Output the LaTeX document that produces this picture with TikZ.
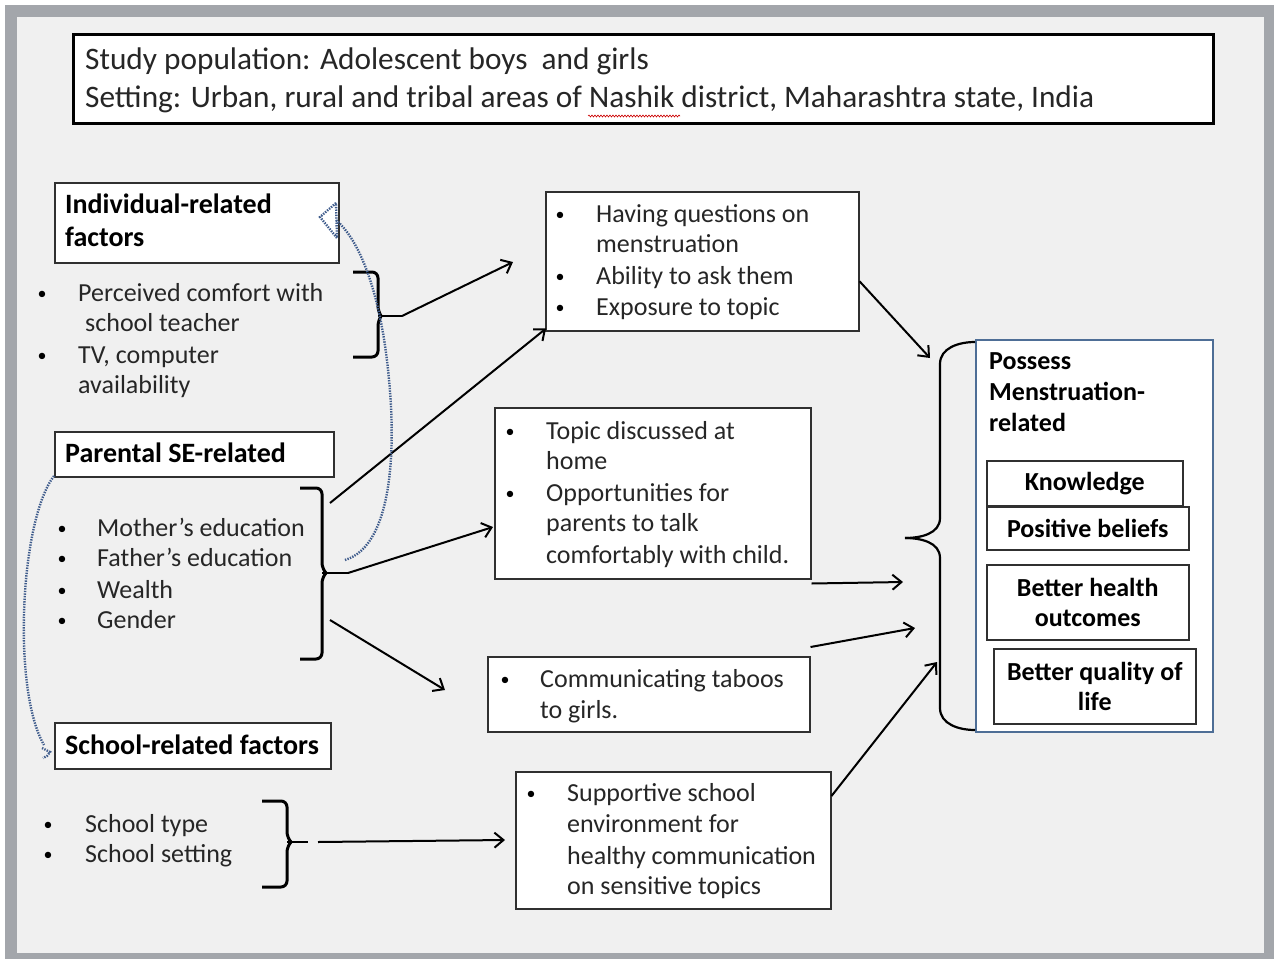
\documentclass[tikz,border=0pt]{standalone}
\usepackage{fontspec}
\setmainfont{Carlito}
\usetikzlibrary{arrows.meta,decorations.pathmorphing}
\definecolor{bgc}{HTML}{F0F0F0}
\definecolor{framec}{HTML}{A3A6AB}
\definecolor{boxc}{HTML}{303030}
\definecolor{txtc}{HTML}{262626}
\definecolor{dotc}{HTML}{3F5C8C}
\definecolor{outc}{HTML}{4E6E96}
\newcommand{\fsbody}{\fontsize{26}{31}\selectfont}
\newcommand{\fshead}{\fontsize{28}{33}\selectfont}
\newcommand{\fstitle}{\fontsize{31.3}{38}\selectfont}
\newcommand{\fsbul}{\fontsize{18}{20}\selectfont}
\begin{document}
\begin{tikzpicture}[x=1pt,y=-1pt,
  box/.style={draw=boxc, fill=white, line width=1.5pt, inner sep=0pt, anchor=north west},
  txt/.style={anchor=base west, inner sep=0pt, text=txtc, font=\fsbody},
  head/.style={anchor=base west, inner sep=0pt, text=black, font=\fshead\bfseries},
  ohead/.style={anchor=base west, inner sep=0pt, text=black, font=\fsbody\bfseries},
  bul/.style={anchor=base, inner sep=0pt, text=black, font=\fsbul, yshift=2pt},
  sub/.style={draw=boxc, fill=white, line width=1.5pt, inner sep=0pt, anchor=north west, align=center, font=\fsbody\bfseries, text=black},
  arr/.style={line width=2pt, -{Straight Barb[length=9pt,width=15pt,line width=2pt]}},
  ln/.style={line width=2pt},
  bracestyle/.style={line width=3pt, rounded corners=6pt},
  dotline/.style={draw=dotc, line width=2.4pt, dash pattern=on 1.4pt off 1.2pt}
]
\useasboundingbox (0,0) rectangle (1278,962);
\fill[white] (0,0) rectangle (1278,962);
\fill[framec] (5,5) rectangle (1274,959);
\fill[bgc] (17,17) rectangle (1264,953);

% title
\node[box, line width=2.5pt, draw=black, minimum width=1140pt, minimum height=89pt] (title) at (72,33) {};
\node[anchor=base west, inner sep=0pt, font=\fstitle, text=txtc] (t1) at (85,69) {Study population: Adolescent boys\ \ and girls};
\node[anchor=base west, inner sep=0pt, font=\fstitle, text=txtc] (t2) at (85,107) {Setting: Urban, rural and tribal areas of Nashik district, Maharashtra state, India};
\draw[red!80!black, line width=0.6pt, decorate, decoration={snake, amplitude=1pt, segment length=3pt}] (588,116) -- (680,116);

% individual
\node[box, minimum width=284pt, minimum height=80pt] (ind) at (54,182) {};
\node[head] (ind1) at (65,213) {Individual-related};
\node[head] (ind2) at (65,246) {factors};
\node[bul] (ib1) at (42,301) {•};
\node[txt] (i1) at (78,301) {Perceived comfort with};
\node[txt] (i2) at (85,331) {school teacher};
\node[bul] (ib2) at (42,363) {•};
\node[txt] (i3) at (78,363) {TV, computer};
\node[txt] (i4) at (78,393) {availability};

% parental
\node[box, minimum width=279pt, minimum height=45pt] (par) at (54,431) {};
\node[head] (par1) at (65,462) {Parental SE-related};
\node[bul] (pb1) at (62,536) {•};
\node[txt] (p1) at (97,536) {Mother’s education};
\node[bul] (pb2) at (62,566) {•};
\node[txt] (p2) at (97,566) {Father’s education};
\node[bul] (pb3) at (62,598) {•};
\node[txt] (p3) at (97,598) {Wealth};
\node[bul] (pb4) at (62,628) {•};
\node[txt] (p4) at (97,628) {Gender};

% school
\node[box, minimum width=276pt, minimum height=46pt] (sch) at (54,722) {};
\node[head] (sch1) at (65,754) {School-related factors};
\node[bul] (sb1) at (48,832) {•};
\node[txt] (s1) at (85,832) {School type};
\node[bul] (sb2) at (48,862) {•};
\node[txt] (s2) at (85,862) {School setting};

% questions box
\node[box, minimum width=313pt, minimum height=139pt] (q) at (545,191) {};
\node[bul] (qb1) at (560,222) {•};
\node[txt] (q1) at (596,222) {Having questions on};
\node[txt] (q2) at (596,252) {menstruation};
\node[bul] (qb2) at (560,284) {•};
\node[txt] (q3) at (596,284) {Ability to ask them};
\node[bul] (qb3) at (560,315) {•};
\node[txt] (q4) at (596,315) {Exposure to topic};

% home box
\node[box, minimum width=316pt, minimum height=171pt] (home) at (494,407) {};
\node[bul] (hb1) at (510,439) {•};
\node[txt] (h1) at (546,439) {Topic discussed at};
\node[txt] (h2) at (546,469) {home};
\node[bul] (hb2) at (510,501) {•};
\node[txt] (h3) at (546,501) {Opportunities for};
\node[txt] (h4) at (546,531) {parents to talk};
\node[txt] (h5) at (546,563) {comfortably with child.};

% taboo box
\node[box, minimum width=322pt, minimum height=75pt] (tab) at (487,656) {};
\node[bul] (tb1) at (505,687) {•};
\node[txt] (ta1) at (540,687) {Communicating taboos};
\node[txt] (ta2) at (540,718) {to girls.};

% supportive box
\node[box, minimum width=315pt, minimum height=137pt] (sup) at (515,771) {};
\node[bul] (spb1) at (531,801) {•};
\node[txt] (sp1) at (567,801) {Supportive school};
\node[txt] (sp2) at (567,832) {environment for};
\node[txt] (sp3) at (567,864) {healthy communication};
\node[txt] (sp4) at (567,894) {on sensitive topics};

% outcome box
\node[box, draw=outc, minimum width=237pt, minimum height=392pt] (out) at (975,339) {};
\node[ohead] (o1) at (989,369) {Possess};
\node[ohead] (o2) at (989,400) {Menstruation-};
\node[ohead] (o3) at (989,431) {related};
\node[sub, minimum width=196pt, minimum height=45pt] (know) at (986,460) {Knowledge};
\node[sub, minimum width=202pt, minimum height=43pt] (pos) at (986,506) {Positive beliefs};
\node[sub, minimum width=202pt, minimum height=75pt] (hlth) at (986,564) {Better health\\[-1pt]outcomes};
\node[sub, minimum width=202pt, minimum height=75pt] (qual) at (993,648) {Better quality of\\[-1pt]life};

% braces
\draw[bracestyle] (353,272) -- (378,272) -- (378,312) -- (381,316);
\draw[bracestyle] (381,316) -- (378,320) -- (378,357) -- (353,357);
\coordinate (b1) at (402,316);
\draw[ln] (378,316) -- (b1);

\draw[bracestyle] (300,488) -- (322,488) -- (322,569) -- (326,573);
\draw[bracestyle] (326,573) -- (322,577) -- (322,659) -- (300,659);
\coordinate (b2) at (348,573);
\draw[ln] (322,573) -- (b2);

\draw[bracestyle] (262,801) -- (287,801) -- (287,838) -- (291,842);
\draw[bracestyle] (291,842) -- (287,846) -- (287,887) -- (262,887);
\coordinate (b3) at (308,842);
\draw[ln] (287,842) -- (b3);

\coordinate (bb) at (905,538);
\draw[line width=2.2pt] (975,342) to[out=180,in=90] (940,364) -- (940,518) to[out=-90,in=0] (bb);
\draw[line width=2.2pt] (bb) to[out=0,in=90] (940,558) -- (940,708) to[out=-90,in=180] (975,730);

% arrows
\coordinate (e1) at (513,262);
\draw[arr] (b1) -- (e1);
\coordinate (s2a) at (330,503);
\draw[arr] (s2a) -- ([shift={(1,-3)}]q.south west);
\coordinate (e3) at (493,527);
\draw[arr] (b2) -- (e3);
\coordinate (s4) at (330,620);
\coordinate (e4) at (445,690);
\draw[arr] (s4) -- (e4);
\coordinate (e5) at (505,840);
\draw[arr] ([xshift=10pt]b3) -- (e5);
\coordinate (e6) at (930,358);
\draw[arr] ([yshift=-20pt]q.east) -- (e6);
\coordinate (e7) at (903,582);
\draw[arr] ([yshift=-4pt]home.south east) -- (e7);
\coordinate (e8) at (915,628);
\draw[arr] ([yshift=9pt]tab.north east) -- (e8);
\coordinate (e9) at (937,662);
\draw[arr] ([yshift=-25pt]sup.north east) -- (e9);

% dotted connectors
\coordinate (d1s) at (345,560);
\coordinate (d1e) at (320,217);
\draw[dotline] (d1s) .. controls (395,545) and (395,440) .. (389,380) .. controls (383,310) and (365,245) .. (336,220);
\draw[dotline] (336,203) -- (d1e) -- (337,238) -- cycle;
\coordinate (d2s) at (54,476);
\coordinate (d2e) at (47,756);
\draw[dotline] (d2s) .. controls (20,520) and (12,690) .. (44,745);
\draw[dotline] (42,748) -- (50,752) -- (d2e) -- (43,758);
\end{tikzpicture}
\end{document}
